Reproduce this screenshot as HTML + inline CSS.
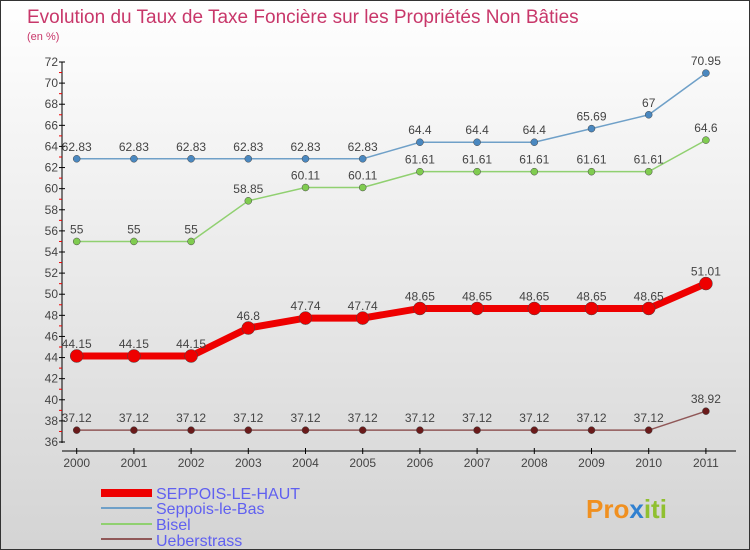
<!DOCTYPE html>
<html><head><meta charset="utf-8"><style>
body{margin:0}
#c{width:748px;height:548px;border:1px solid #333;background:linear-gradient(#ffffff,#d4d4d4);position:relative;font-family:"Liberation Sans",sans-serif;overflow:hidden}
svg{position:absolute;left:0;top:0}
</style></head><body>
<div id="c">
<svg id="s" width="750" height="550">
<text x="26" y="22" font-size="19" fill="#c8376a">Evolution du Taux de Taxe Foncière sur les Propriétés Non Bâties</text>
<text x="26" y="39" font-size="11" fill="#c8376a">(en %)</text>
<g id="g"></g>
<rect x="100" y="488" width="51" height="8" fill="#ee0000"/>
<rect x="100" y="506" width="51" height="2" fill="#6fa0c8"/>
<rect x="100" y="522" width="51" height="2" fill="#90d070"/>
<rect x="100" y="537" width="51" height="2" fill="#905858"/>
<g font-size="16" fill="#6060f0">
<text x="155" y="498">SEPPOIS-LE-HAUT</text>
<text x="155" y="513">Seppois-le-Bas</text>
<text x="155" y="529">Bisel</text>
<text x="155" y="545">Ueberstrass</text>
</g>
<text x="585" y="517" font-size="26" font-weight="bold" fill="#f09020">Pro<tspan fill="#3080d0">x</tspan><tspan fill="#90c030">iti</tspan></text>
</svg>
</div>
<script>
const years=["2000","2001","2002","2003","2004","2005","2006","2007","2008","2009","2010","2011"];
const yTicks=[36,38,40,42,44,46,48,50,52,54,56,58,60,62,64,66,68,70,72];
const seppoisHaut=[44.15,44.15,44.15,46.8,47.74,47.74,48.65,48.65,48.65,48.65,48.65,51.01];
const seppoisBas=[62.83,62.83,62.83,62.83,62.83,62.83,64.4,64.4,64.4,65.69,67,70.95];
const bisel=[55,55,55,58.85,60.11,60.11,61.61,61.61,61.61,61.61,61.61,64.6];
const ueberstrass=[37.12,37.12,37.12,37.12,37.12,37.12,37.12,37.12,37.12,37.12,37.12,38.92];
const labelsHaut=["44.15","44.15","44.15","46.8","47.74","47.74","48.65","48.65","48.65","48.65","48.65","51.01"];
const labelsBas=["62.83","62.83","62.83","62.83","62.83","62.83","64.4","64.4","64.4","65.69","67","70.95"];
const labelsBisel=["55","55","55","58.85","60.11","60.11","61.61","61.61","61.61","61.61","61.61","64.6"];
const labelsUeb=["37.12","37.12","37.12","37.12","37.12","37.12","37.12","37.12","37.12","37.12","37.12","38.92"];
const NS="http://www.w3.org/2000/svg",g=document.getElementById('g');
const X=i=>75.7+i*57.2, Y=v=>441-(v-36)*(380/36);
function mk(t,a){const e=document.createElementNS(NS,t);for(const k in a)e.setAttribute(k,a[k]);g.appendChild(e);return e;}
let e=mk('line',{x1:61,y1:61,x2:61,y2:442,stroke:'#000','stroke-width':1});


e=mk('line',{x1:61,y1:450,x2:735,y2:450,stroke:'#000','stroke-width':1});


yTicks.forEach((v,i)=>{
 e=mk('line',{x1:58,y1:Y(v),x2:64,y2:Y(v),stroke:'#000'});
 
 
 if(i<yTicks.length-1){e=mk('line',{x1:58,y1:Y(v+1),x2:61,y2:Y(v+1),stroke:'#e00'});
 
 }
 e=mk('text',{x:57,y:Y(v)+4,'font-size':12,fill:'#444','text-anchor':'end'});e.textContent=v;
 
 
});
years.forEach((y,i)=>{
 e=mk('line',{x1:X(i),y1:447,x2:X(i),y2:453,stroke:'#000'});
 
 
 e=mk('text',{x:X(i),y:466,'font-size':12,fill:'#444','text-anchor':'middle'});e.textContent=y;
 
 
});
function series(vals,labs,col,w,r,name,lc){
 const p=mk('polyline',{points:vals.map((v,i)=>X(i)+','+Y(v)).join(' '),fill:'none',stroke:col,'stroke-width':w});
 
 
 vals.forEach((v,i)=>{
  const c=mk('circle',{cx:X(i),cy:Y(v),r:r,fill:lc,stroke:'#444','stroke-width':0.5});
  
  
  const t=mk('text',{x:X(i),y:Y(v)-8,'font-size':12,fill:'#444','text-anchor':'middle'});t.textContent=labs[i];
  
  
 });
}
series(ueberstrass,labelsUeb,'#905858',1.5,3.5,'ueberstrass','#6a1a1a');
series(bisel,labelsBisel,'#90d070',1.5,3.5,'bisel','#80cc50');
series(seppoisBas,labelsBas,'#6fa0c8',1.5,3.5,'seppois-le-bas','#4a88c0');
series(seppoisHaut,labelsHaut,'#ee0000',7,6.5,'seppois-le-haut','#ee0000');
</script>
</body></html>
